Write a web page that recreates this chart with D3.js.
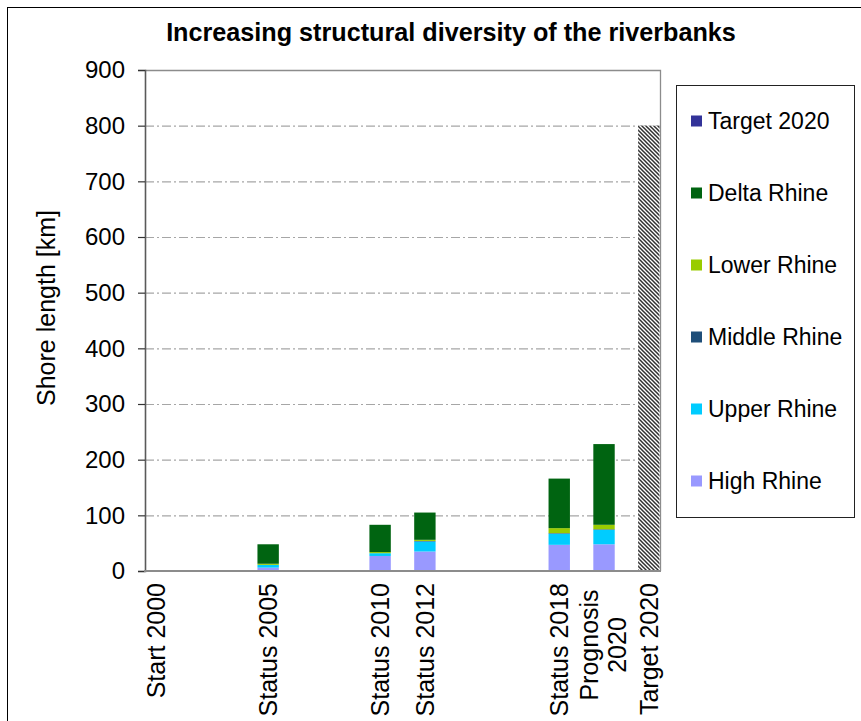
<!DOCTYPE html>
<html>
<head>
<meta charset="utf-8">
<script src="https://cdn.jsdelivr.net/npm/d3@7"></script>
<style>
  body { margin: 0; background: #fff; }
  text { font-family: "Liberation Sans", Arial, sans-serif; fill: #000; }
</style>
</head>
<body>
<div id="chart"></div>
<script>
// categories and their slot on the yearly axis (2000 = 0)
var categories = ["Start 2000", "Status 2005", "Status 2010", "Status 2012", "Status 2018", "Prognosis 2020", "Target 2020"];
var slots = [0, 5, 10, 12, 18, 20, 22];

// shore length in km per section
var highRhine   = [0, 6, 27, 35, 47, 48, 0];
var upperRhine  = [0, 5, 5, 18, 20, 26, 0];
var middleRhine = [0, 0, 0, 1, 1, 1, 0];
var lowerRhine  = [0, 2, 2, 2, 9, 8, 0];
var deltaRhine  = [0, 35, 49, 49, 89, 145, 0];
var target2020  = [0, 0, 0, 0, 0, 0, 800];

var seriesNames = ["High Rhine", "Upper Rhine", "Middle Rhine", "Lower Rhine", "Delta Rhine", "Target 2020"];
var seriesValues = [highRhine, upperRhine, middleRhine, lowerRhine, deltaRhine, target2020];
var yTicks = [0, 100, 200, 300, 400, 500, 600, 700, 800, 900];

var colors = {
  "High Rhine": "#9999ff",
  "Upper Rhine": "#00ccff",
  "Middle Rhine": "#1f4e79",
  "Lower Rhine": "#99cc00",
  "Delta Rhine": "#006411",
  "Target 2020": "#333399"
};

var W = 861, H = 721;
var plotLeft = 145, plotRight = 660, plotTop = 70, plotBottom = 571;

var svg = d3.select("#chart")
  .append("svg")
  .attr("width", W)
  .attr("height", H);

// pattern for target bar
var defs = svg.append("defs");
var pat = defs.append("pattern")
  .attr("id", "hatch")
  .attr("patternUnits", "userSpaceOnUse")
  .attr("width", 4)
  .attr("height", 4);
pat.append("rect").attr("width", 4).attr("height", 4).attr("fill", "#fff");
pat.append("path")
  .attr("d", "M-1,-1 L5,5 M3,-1 L5,1 M-1,3 L1,5")
  .attr("stroke", "#303030")
  .attr("stroke-width", 1.5);

// outer frame (cut off at right/bottom)
svg.append("rect")
  .attr("x", 7.5).attr("y", 7.5)
  .attr("width", 900).attr("height", 900)
  .attr("fill", "none")
  .attr("stroke", "#000")
  .attr("stroke-width", 1);

var data = categories.map(function (c, i) {
  var d = { category: c, slot: slots[i] };
  seriesNames.forEach(function (s, j) { d[s] = seriesValues[j][i]; });
  return d;
});

var xScale = d3.scaleBand()
  .domain(d3.range(0, 23))
  .range([plotLeft, plotRight])
  .padding(0);

var yScale = d3.scaleLinear()
  .domain([0, 900])
  .range([plotBottom, plotTop]);

// gridlines
svg.append("g")
  .selectAll("line")
  .data(yTicks.filter(function (t) { return t > 0 && t < 900; }))
  .enter()
  .append("line")
  .attr("x1", plotLeft).attr("x2", plotRight)
  .attr("y1", function (d) { return yScale(d) + 0.5; })
  .attr("y2", function (d) { return yScale(d) + 0.5; })
  .attr("stroke", "#a6a6a6")
  .attr("stroke-width", 1.2)
  .attr("stroke-dasharray", "9,3,2,3");

// plot border top / right
svg.append("path")
  .attr("d", "M" + plotLeft + "," + (plotTop + 0.5) + "H" + (plotRight + 0.5) + "V" + plotBottom)
  .attr("fill", "none")
  .attr("stroke", "#8c8c8c")
  .attr("stroke-width", 1.3);

var stack = d3.stack().keys(seriesNames);
var stacked = stack(data);

svg.append("g")
  .selectAll("g")
  .data(stacked)
  .enter()
  .append("g")
  .attr("fill", function (d) { return d.key === "Target 2020" ? "url(#hatch)" : colors[d.key]; })
  .selectAll("rect")
  .data(function (d) { return d; })
  .enter()
  .append("rect")
  .attr("x", function (d) { return xScale(d.data.slot) + 0.5; })
  .attr("width", xScale.bandwidth() - 1)
  .attr("y", function (d) { return yScale(d[1]); })
  .attr("height", function (d) { return yScale(d[0]) - yScale(d[1]); });

// axes
var yAxis = svg.append("g")
  .attr("transform", "translate(" + plotLeft + ",0)")
  .call(d3.axisLeft(yScale).tickValues(yTicks).tickSize(7).tickPadding(13).tickFormat(d3.format("d")));
yAxis.select(".domain").attr("stroke", "#5a5a5a").attr("stroke-width", 1.6);
yAxis.selectAll(".tick line").attr("stroke", "#333").attr("stroke-width", 1.2);
yAxis.selectAll(".tick text").style("font-size", "24px").attr("fill", "#000");

svg.append("line")
  .attr("x1", plotLeft - 1).attr("x2", plotRight + 1)
  .attr("y1", plotBottom).attr("y2", plotBottom)
  .attr("stroke", "#8c8c8c")
  .attr("stroke-width", 2);

// x labels
var xl = svg.append("g");
data.forEach(function (d) {
  var cx = xScale(d.slot) + xScale.bandwidth() / 2;
  if (d.category === "Prognosis 2020") {
    var t = xl.append("text")
      .attr("transform", "translate(" + cx + ",645) rotate(-90)")
      .attr("text-anchor", "middle")
      .style("font-size", "25px");
    t.append("tspan").attr("x", 0).attr("dy", "-0.26em").text("Prognosis");
    t.append("tspan").attr("x", 0).attr("dy", "1.15em").text("2020");
  } else {
    xl.append("text")
      .attr("transform", "translate(" + cx + ",583) rotate(-90)")
      .attr("text-anchor", "end")
      .attr("dy", "0.35em")
      .style("font-size", "25px")
      .text(d.category);
  }
});

// title
svg.append("text")
  .attr("x", 451).attr("y", 41)
  .attr("text-anchor", "middle")
  .style("font-size", "25.2px")
  .style("font-weight", "bold")
  .text("Increasing structural diversity of the riverbanks");

// y label
svg.append("text")
  .attr("transform", "translate(46,308) rotate(-90)")
  .attr("text-anchor", "middle")
  .attr("dy", "0.35em")
  .style("font-size", "25px")
  .text("Shore length [km]");

// legend
svg.append("rect")
  .attr("x", 676.5).attr("y", 85.5)
  .attr("width", 178).attr("height", 432)
  .attr("fill", "#fff")
  .attr("stroke", "#222")
  .attr("stroke-width", 1);

var legendItems = seriesNames.slice().reverse();
var lg = svg.append("g")
  .selectAll("g")
  .data(legendItems)
  .enter()
  .append("g")
  .attr("transform", function (d, i) { return "translate(691," + (121 + i * 72) + ")"; });
lg.append("rect")
  .attr("x", 0).attr("y", -5.5)
  .attr("width", 11).attr("height", 11)
  .attr("fill", function (d) { return colors[d]; });
lg.append("text")
  .attr("x", 17)
  .attr("dy", "0.35em")
  .style("font-size", "23px")
  .text(function (d) { return d; });
</script>
</body>
</html>
